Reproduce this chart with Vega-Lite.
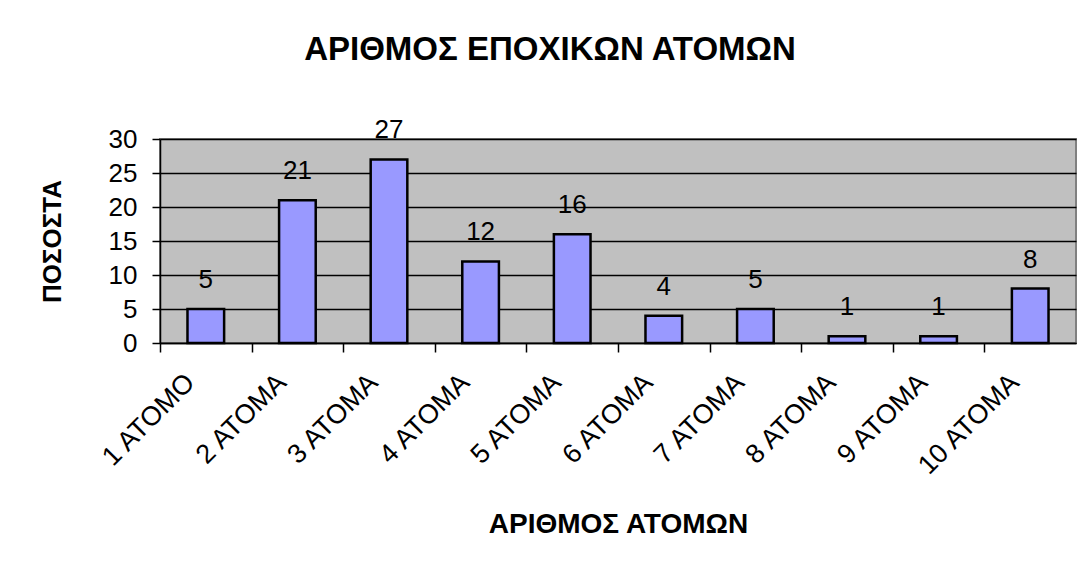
{
  "$schema": "https://vega.github.io/schema/vega-lite/v6.json",
  "autosize": {"type": "none"},
  "padding": {"left": 160, "top": 139, "right": 11, "bottom": 222},
  "width": 916,
  "height": 204,
  "background": "white",
  "title": {
    "text": "ΑΡΙΘΜΟΣ ΕΠΟΧΙΚΩΝ ΑΤΟΜΩΝ",
    "font": "Liberation Sans",
    "fontSize": 33,
    "fontWeight": "bold",
    "color": "black",
    "anchor": "middle",
    "dx": -68,
    "offset": 24,
    "baseline": "alphabetic"
  },
  "data": {
    "values": [
      {"category": "1 ΑΤΟΜΟ", "value": 5},
      {"category": "2 ΑΤΟΜΑ", "value": 21},
      {"category": "3 ΑΤΟΜΑ", "value": 27},
      {"category": "4 ΑΤΟΜΑ", "value": 12},
      {"category": "5 ΑΤΟΜΑ", "value": 16},
      {"category": "6 ΑΤΟΜΑ", "value": 4},
      {"category": "7 ΑΤΟΜΑ", "value": 5},
      {"category": "8 ΑΤΟΜΑ", "value": 1},
      {"category": "9 ΑΤΟΜΑ", "value": 1},
      {"category": "10 ΑΤΟΜΑ", "value": 8}
    ]
  },
  "encoding": {
    "x": {
      "field": "category",
      "type": "nominal",
      "sort": null,
      "scale": {"paddingInner": 0.6, "paddingOuter": 0.3},
      "axis": {
        "title": "ΑΡΙΘΜΟΣ ΑΤΟΜΩΝ",
        "titleFont": "Liberation Sans",
        "titleFontSize": 28,
        "titleFontWeight": "bold",
        "titleColor": "black",
        "titlePadding": 31,
        "labelFont": "Liberation Sans",
        "labelFontSize": 27,
        "labelColor": "black",
        "labelAngle": -45,
        "labelAlign": "right",
        "labelBaseline": "middle",
        "labelPadding": 26,
        "labelLimit": 300,
        "labelOffset": 30,
        "tickOffset": -45.8,
        "tickSize": 9,
        "tickColor": "black",
        "tickWidth": 1.5,
        "domainColor": "black",
        "domainWidth": 1.5,
        "grid": false
      }
    },
    "y": {
      "field": "value",
      "type": "quantitative",
      "scale": {"domain": [0, 30], "nice": false},
      "axis": {
        "title": "ΠΟΣΟΣΤΑ",
        "titleFont": "Liberation Sans",
        "titleFontSize": 26,
        "titleFontWeight": "bold",
        "titleColor": "black",
        "titlePadding": 43,
        "values": [0, 5, 10, 15, 20, 25, 30],
        "labelFont": "Liberation Sans",
        "labelFontSize": 26,
        "labelColor": "black",
        "labelPadding": 15,
        "tickSize": 8,
        "tickColor": "black",
        "tickWidth": 1.5,
        "domainColor": "black",
        "domainWidth": 1.5,
        "grid": true,
        "gridColor": "black",
        "gridWidth": 1.5
      }
    }
  },
  "layer": [
    {
      "mark": {"type": "bar", "color": "#9999FF", "stroke": "black", "strokeWidth": 2.5}
    },
    {
      "mark": {"type": "text", "font": "Liberation Sans", "fontSize": 26, "color": "black", "baseline": "alphabetic", "dy": -21},
      "encoding": {"text": {"field": "value", "type": "quantitative"}}
    }
  ],
  "config": {
    "view": {"fill": "#C0C0C0", "stroke": "#808080", "strokeWidth": 2}
  }
}
